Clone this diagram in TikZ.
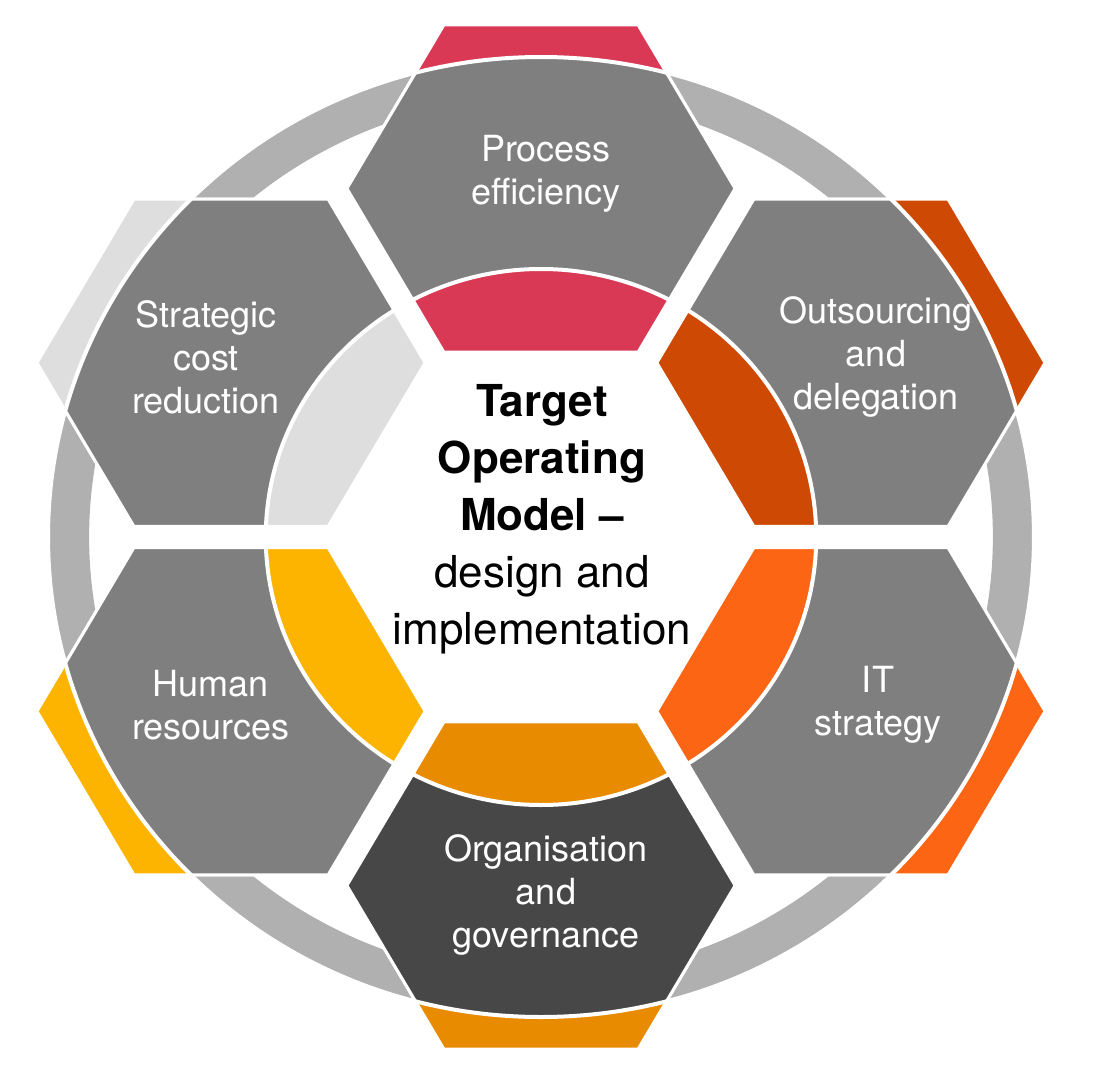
\documentclass[tikz,border=0pt]{standalone}
\usepackage{fontspec}
\setmainfont{TeX Gyre Heros}
\definecolor{ringgray}{HTML}{B0B0B0}
\definecolor{hexgray}{HTML}{7F7F7F}
\definecolor{hexdark}{HTML}{474747}
\definecolor{procred}{HTML}{D93954}
\definecolor{outorange}{HTML}{CE4A04}
\definecolor{itorange}{HTML}{FC6514}
\definecolor{orgamber}{HTML}{E98B00}
\definecolor{hryellow}{HTML}{FDB400}
\definecolor{costgray}{HTML}{DEDEDE}
\newcommand{\hexat}[1]{(#1) ++(-94.5,-163.7) ++(189,0) -- ++(60:189) -- ++(120:189) -- ++(180:189) -- ++(240:189) -- ++(300:189) -- cycle}

\begin{document}
\begin{tikzpicture}
        [x=1pt,y=1pt,
         hexlabel/.style={text=white,align=center,font=\fontsize{36}{43}\selectfont},
         sep/.style={draw=white,line width=3pt}]
        \useasboundingbox (-541,-543) rectangle (555,537);
        \begin{scope}[xscale=1.027]
        % outer ring
        \fill [ringgray,even odd rule] (0,0) circle (480) (0,0) circle (440);
        % colored hexagons
        \foreach \a/\c in {90/procred,30/outorange,-30/itorange,-90/orgamber,210/hryellow,150/costgray}
          \path [fill=\c,sep] \hexat{\a:348.5};
        % gray hexagons
        \begin{scope}
          \clip (0,0) circle (480);
          \foreach \a/\c in {90/hexgray,30/hexgray,-30/hexgray,-90/hexdark,210/hexgray,150/hexgray}
            \path [fill=\c,sep] \hexat{\a:348.5};
        \end{scope}
        \draw [white,line width=4pt] (0,0) circle (480);
        % inner colored ring
        \begin{scope}
          \clip (0,0) circle (268);
          \foreach \a/\c in {90/procred,30/outorange,-30/itorange,-90/orgamber,210/hryellow,150/costgray}
            \path [fill=\c,sep] \hexat{\a:348.5};
        \end{scope}
        \draw [white,line width=4pt] (0,0) circle (268);
        \fill [white] (0:213.6) -- (60:213.6) -- (120:213.6) -- (180:213.6) -- (240:213.6) -- (300:213.6) -- cycle;
        \end{scope}
        % labels
        \node (process) at (5,363) [hexlabel] {Process\\efficiency};
        \node (outsourcing) at (335,180) [hexlabel] {Outsourcing\\and\\delegation};
        \node (itstrategy) at (337,-168) [hexlabel] {IT\\strategy};
        \node (organisation) at (5,-358) [hexlabel] {Organisation\\and\\governance};
        \node (human) at (-330,-168) [hexlabel] {Human\\resources};
        \node (cost) at (-335,180) [hexlabel] {Strategic\\cost\\reduction};
        \node (tom) at (1,18) [align=center,font=\fontsize{44}{57}\selectfont]
          {\textbf{Target}\\\textbf{Operating}\\\textbf{Model –}\\design and\\implementation};
      \end{tikzpicture}
\end{document}
